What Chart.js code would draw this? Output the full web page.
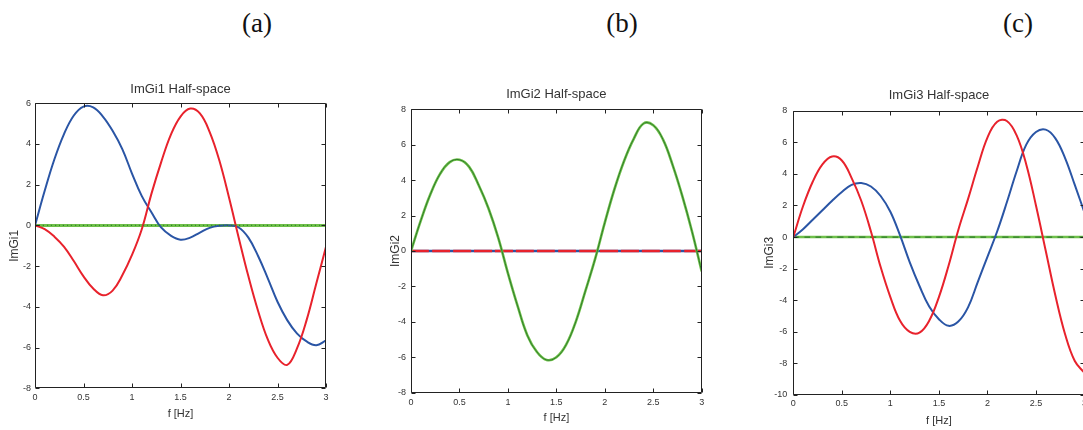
<!DOCTYPE html>
<html>
<head>
<meta charset="utf-8">
<script src="https://cdn.jsdelivr.net/npm/chart.js@4/dist/chart.umd.min.js"></script>
<style>
  html, body { margin:0; padding:0; background:#fff; width:1083px; height:430px; overflow:hidden; position:relative; }
  canvas { position:absolute; }
  .lab { position:absolute; font-family:"Liberation Serif","Times New Roman",serif; font-size:27px; color:#111; transform:translate(-50%,-50%); line-height:1; white-space:nowrap; }
</style>
</head>
<body>
<div class="lab" style="left:257px; top:23px;">(a)</div>
<div class="lab" style="left:622px; top:23px;">(b)</div>
<div class="lab" style="left:1018px; top:23px;">(c)</div>
<canvas id="ca" width="345" height="370" style="left:0px; top:60px;"></canvas>
<canvas id="cb" width="355" height="370" style="left:365px; top:60px;"></canvas>
<canvas id="cc" width="350" height="370" style="left:745px; top:60px;"></canvas>
<script>
// Frequency grid (Hz)
const freq = [0,0.1,0.2,0.3,0.4,0.5,0.6,0.7,0.8,0.9,1.0,1.1,1.2,1.3,1.4,1.5,1.6,1.7,1.8,1.9,2.0,2.1,2.2,2.3,2.4,2.5,2.6,2.7,2.8,2.9,3.0];

// (a) ImGi1
const blueA  = [0,1.7,3.25,4.5,5.4,5.84,5.8,5.35,4.65,3.75,2.55,1.45,0.65,-0.1,-0.5,-0.7,-0.6,-0.35,-0.12,-0.02,0.0,-0.1,-0.6,-1.5,-2.6,-3.75,-4.65,-5.3,-5.7,-5.88,-5.65];
const redA   = [0,-0.18,-0.55,-1.05,-1.75,-2.5,-3.1,-3.43,-3.2,-2.45,-1.45,-0.2,1.55,3.1,4.45,5.35,5.74,5.5,4.6,3.2,1.37,-0.6,-2.5,-4.2,-5.6,-6.5,-6.85,-6.05,-4.65,-2.85,-1.05];
const greenA = [0,0,0,0,0,0,0,0,0,0,0,0,0,0,0,0,0,0,0,0,0,0,0,0,0,0,0,0,0,0,0];

// (b) ImGi2
const blueB  = [0,0,0,0,0,0,0,0,0,0,0,0,0,0,0,0,0,0,0,0,0,0,0,0,0,0,0,0,0,0,0];
const redB   = [0,0,0,0,0,0,0,0,0,0,0,0,0,0,0,0,0,0,0,0,0,0,0,0,0,0,0,0,0,0,0];
const greenB = [0,1.7,3.2,4.35,5.02,5.15,4.75,3.7,2.4,0.75,-1.25,-3.1,-4.75,-5.7,-6.15,-6.0,-5.3,-4.0,-2.25,-0.45,1.6,3.5,5.1,6.35,7.2,7.1,6.3,4.85,3.1,1.1,-1.15];

// (c) ImGi3
const blueC  = [0,0.5,1.1,1.7,2.3,2.85,3.3,3.42,3.2,2.6,1.6,0.1,-1.6,-3.1,-4.4,-5.2,-5.62,-5.35,-4.45,-2.85,-1.25,0.35,2.2,4.15,5.85,6.65,6.8,6.25,5.0,3.3,1.55];
const redC   = [0,1.95,3.5,4.6,5.1,4.85,3.75,2.3,0.35,-1.9,-3.8,-5.3,-6.0,-6.05,-5.3,-3.8,-1.8,0.45,2.4,4.45,6.3,7.3,7.35,6.45,4.6,2.0,-0.85,-3.7,-6.15,-7.85,-8.6];
const greenC = [0,0,0,0,0,0,0,0,0,0,0,0,0,0,0,0,0,0,0,0,0,0,0,0,0,0,0,0,0,0,0];

const BLUE = '#2a55a5', RED = '#e8222c', GREEN = '#6fc04a', DKGREEN = '#2f7d2a';
const FONT = '"Liberation Sans", Arial, sans-serif';
const TXT = '#333';

function pts(ys){ return freq.map((f,i)=>({x:f, y:ys[i]})); }
function ds(ys, color, width, dash){
  return { data: pts(ys), borderColor: color, borderWidth: width, borderDash: dash || [], pointRadius: 0, tension: 0.4, fill: false };
}

const innerTicks = {
  id: 'innerTicks',
  afterDraw(chart){
    const {ctx, chartArea:{left,right,top,bottom}, scales:{x,y}} = chart;
    ctx.save();
    ctx.strokeStyle = '#222';
    ctx.lineWidth = 1;
    const L = Math.round(left)+0.5, R = Math.round(right)-0.5, T = Math.round(top)+0.5, B = Math.round(bottom)-0.5;
    ctx.beginPath();
    ctx.rect(L, T, R-L, B-T);
    ctx.stroke();
    ctx.beginPath();
    x.ticks.forEach(t=>{
      const px = Math.round(x.getPixelForValue(t.value))+0.5;
      ctx.moveTo(px,B); ctx.lineTo(px,B-4);
      ctx.moveTo(px,T); ctx.lineTo(px,T+4);
    });
    y.ticks.forEach(t=>{
      const py = Math.round(y.getPixelForValue(t.value))+0.5;
      ctx.moveTo(L,py); ctx.lineTo(L+4,py);
      ctx.moveTo(R,py); ctx.lineTo(R-4,py);
    });
    ctx.stroke();
    ctx.restore();
  }
};

function makeChart(id, title, ylabel, datasets, cfg){
  new Chart(document.getElementById(id), {
    type: 'line',
    data: { datasets },
    plugins: [innerTicks],
    options: {
      responsive: false,
      animation: false,
      events: [],
      layout: { padding: { left: 0, right: cfg.padR, top: 0, bottom: 0 } },
      plugins: {
        legend: { display: false },
        tooltip: { enabled: false },
        title: { display: true, text: title, fullSize: false, color: TXT,
                 font: { family: FONT, size: 13, weight: 'normal' },
                 padding: { top: cfg.tTop, bottom: cfg.tBot } }
      },
      scales: {
        x: {
          type: 'linear', min: 0, max: 3,
          afterFit: s => { s.height = cfg.hx; },
          grid: { display: false, drawTicks: false },
          border: { display: false },
          ticks: { stepSize: 0.5, padding: cfg.xPad, color: TXT, maxRotation: 0, autoSkip: false,
                   font: { family: FONT, size: 9 }, callback: v => String(v) },
          title: { display: true, text: 'f [Hz]', color: TXT, font: { family: FONT, size: 11 },
                   padding: { top: 0, bottom: cfg.xtPad } }
        },
        y: {
          type: 'linear', min: cfg.ymin, max: cfg.ymax,
          afterFit: s => { s.width = cfg.wy; },
          grid: { display: false, drawTicks: false },
          border: { display: false },
          ticks: { stepSize: 2, padding: cfg.yPad, color: TXT, autoSkip: false,
                   font: { family: FONT, size: 9 }, callback: v => String(v) },
          title: { display: true, text: ylabel, color: TXT, font: { family: FONT, size: 12 },
                   padding: { top: cfg.ytPad, bottom: 0 } }
        }
      }
    }
  });
}

makeChart('ca', 'ImGi1 Half-space', 'ImGi1', [
  ds(greenA, DKGREEN, 1.2, [1,3]),
  ds(redA, RED, 2),
  ds(blueA, BLUE, 2),
  ds(greenA, GREEN, 3)
], { padR: 19, tTop: 21.2, tBot: 6.5, hx: 41.7, xPad: 4, xtPad: 9.4, wy: 35, yPad: 4, ytPad: 7.8, ymin: -8, ymax: 6 });

makeChart('cb', 'ImGi2 Half-space', 'ImGi2', [
  ds(greenB, DKGREEN, 1),
  ds(greenB, GREEN, 2.6),
  ds(redB, RED, 2.6, [18,3]),
  ds(blueB, BLUE, 2.6)
], { padR: 18.3, tTop: 26.2, tBot: 7.5, hx: 37.3, xPad: 4.5, xtPad: 5.4, wy: 46, yPad: 5, ytPad: 23.8, ymin: -8, ymax: 8 });

makeChart('cc', 'ImGi3 Half-space', 'ImGi3', [
  ds(redC, RED, 2),
  ds(blueC, BLUE, 2),
  ds(greenC, DKGREEN, 1.2, [6,5]),
  ds(greenC, GREEN, 2.6)
], { padR: 10.5, tTop: 27.2, tBot: 7.9, hx: 35, xPad: 3.5, xtPad: 2.7, wy: 48.3, yPad: 6, ytPad: 17.1, ymin: -10, ymax: 8 });
</script>
</body>
</html>
